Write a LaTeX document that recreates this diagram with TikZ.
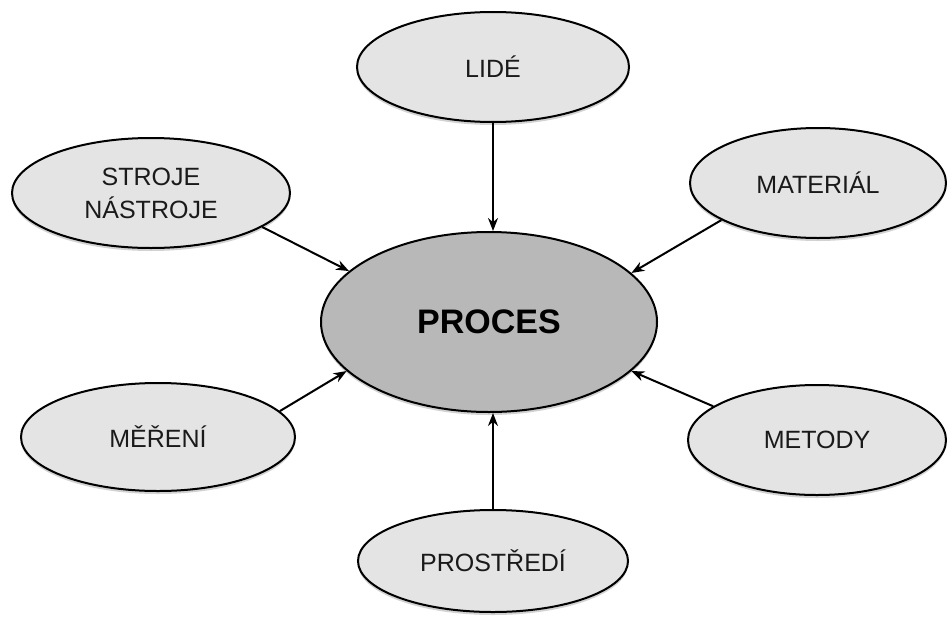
\documentclass[tikz,border=0pt]{standalone}
\usepackage{fontspec}
\setmainfont{Liberation Sans}
\usetikzlibrary{shapes.geometric,shadows,arrows.meta}
\definecolor{outerfill}{HTML}{E4E4E4}
\definecolor{corefill}{HTML}{B8B8B8}
\definecolor{inktext}{HTML}{1A1A1A}
\tikzset{
  factor/.style={ellipse, draw=black, line width=2pt, fill=outerfill,
    inner sep=0pt, align=center, text=inktext, font=\fontsize{25}{33}\selectfont,
    drop shadow={shadow xshift=0pt, shadow yshift=-3pt, opacity=0.35}},
  core/.style={factor, fill=corefill, text=black, font=\fontsize{34}{38}\selectfont\bfseries},
  feed/.style={-{Stealth[length=13pt,width=10pt]}, line width=2pt}
}
\begin{document}
\begin{tikzpicture}[x=1pt,y=-1pt]
  \useasboundingbox[fill=white] (0,0) rectangle (949,618);
  % central process and its six influencing factors
  \node[core, minimum width=336pt, minimum height=180pt] (proces) at (489,322) {PROCES};
  \node[factor, minimum width=272pt, minimum height=110pt] (lide) at (493,67) {LIDÉ};
  \node[factor, minimum width=278pt, minimum height=110pt] (stroje) at (151,193) {STROJE\\NÁSTROJE};
  \node[factor, minimum width=256pt, minimum height=110pt] (material) at (818,183) {MATERIÁL};
  \node[factor, minimum width=274pt, minimum height=108pt] (mereni) at (158,437) {MĚŘENÍ};
  \node[factor, minimum width=258pt, minimum height=110pt] (metody) at (817,440) {METODY};
  \node[factor, minimum width=270pt, minimum height=102pt] (prostredi) at (493,561) {PROSTŘEDÍ};
  % arrows pointing into the process
  \draw[feed] (lide.south) -- (lide.south |- proces.north);
  \draw[feed] (prostredi.north) -- (prostredi.north |- proces.south);
  \draw[feed] (stroje.-17) -- (proces.160.7);
  \draw[feed] (material.201.7) -- (proces.19.4);
  \draw[feed] (mereni.12.4) -- (proces.199.7);
  \draw[feed] (metody.162.7) -- (proces.-19.9);
\end{tikzpicture}
\end{document}
